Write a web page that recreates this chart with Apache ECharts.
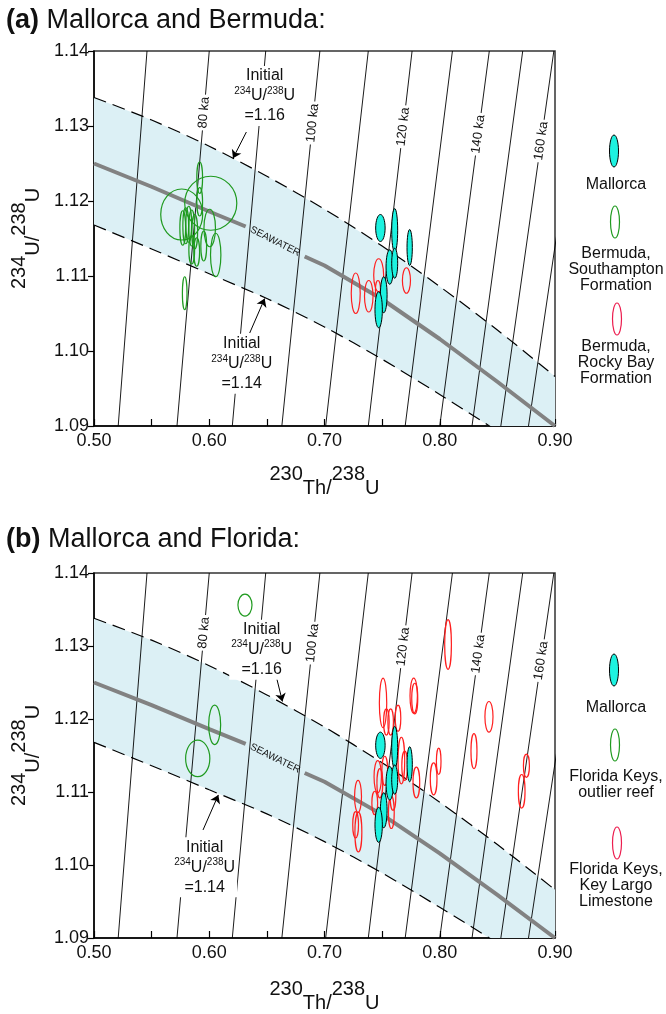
<!DOCTYPE html>
<html>
<head>
<meta charset="utf-8">
<script src="https://cdn.jsdelivr.net/npm/echarts@6/dist/echarts.min.js"></script>
<style>
  html, body { margin: 0; padding: 0; background: #fff; }
  #main { width: 666px; height: 1014px; }
</style>
</head>
<body>
<div id="main"></div>
<script>
var FONT = '"Liberation Sans", Arial, Helvetica, sans-serif';
var INK = '#111';
var BAND = '#dcf0f5';
var GREEN = '#1f9a1f';
var RED = '#ff1f1f';
var CYAN = '#1cf2e0';
var Y_MIN = 1.09, Y_MAX = 1.14;

// isochrons (age lines): x at 234U/238U = 1.09 and at 1.14
var isoAges = [70, 80, 90, 100, 110, 120, 130, 140, 150, 160, 170];
var isoBottomX = [0.521, 0.572, 0.620, 0.663, 0.701, 0.738, 0.770, 0.800, 0.828, 0.853, 0.877];
var isoTopX = [0.546, 0.600, 0.649, 0.696, 0.738, 0.776, 0.811, 0.843, 0.872, 0.899, 0.925];
var isoLabelAges = [80, 100, 120, 140, 160];
var isoLabelY = [1.1318, 1.1304, 1.1299, 1.1289, 1.1280];

// initial 234U/238U envelopes and seawater curve
var bandX = [0.50, 0.55, 0.60, 0.65, 0.70, 0.75, 0.80, 0.85, 0.90];
var initial116Y = [1.1338, 1.1308, 1.1273, 1.1233, 1.1189, 1.1140, 1.1086, 1.1028, 1.0966];
var initial114Y = [1.1168, 1.1136, 1.1103, 1.1070, 1.1032, 1.0989, 1.0942, 1.0893, 1.0840];
var seawaterX = [0.50, 0.55, 0.60, 0.6316, null, 0.6828, 0.70, 0.75, 0.80, 0.85, 0.90];
var seawaterY = [1.1250, 1.1219, 1.1186, 1.1166, null, 1.1126, 1.1114, 1.1069, 1.1016, 1.0959, 1.0900];

// samples: [230Th/238U, 234U/238U, half-width x, half-height y]
var mallorca = [
  [0.7485, 1.1164, 0.0041, 0.0018], [0.7609, 1.1161, 0.0026, 0.0029],
  [0.7739, 1.1138, 0.0023, 0.0024], [0.7566, 1.1112, 0.0032, 0.0023],
  [0.7609, 1.1117, 0.0026, 0.0020], [0.7514, 1.1075, 0.0029, 0.0024],
  [0.7470, 1.1055, 0.0032, 0.0024]
];
var bermudaSouthampton = [
  [0.5761, 1.1182, 0.0182, 0.0034], [0.6013, 1.1197, 0.0226, 0.0036],
  [0.5917, 1.1231, 0.0025, 0.0021], [0.5917, 1.1199, 0.0025, 0.0019],
  [0.5770, 1.1164, 0.0025, 0.0023], [0.5796, 1.1167, 0.0025, 0.0024],
  [0.5822, 1.1169, 0.0025, 0.0024], [0.5848, 1.1164, 0.0025, 0.0024],
  [0.5874, 1.1159, 0.0025, 0.0023], [0.6004, 1.1164, 0.0050, 0.0025],
  [0.6056, 1.1128, 0.0045, 0.0029], [0.5848, 1.1135, 0.0025, 0.0019],
  [0.5891, 1.1132, 0.0025, 0.0019], [0.5952, 1.1140, 0.0025, 0.0020],
  [0.5787, 1.1077, 0.0020, 0.0022]
];
var bermudaRockyBay = [
  [0.7271, 1.1077, 0.0039, 0.0027], [0.7384, 1.1073, 0.0037, 0.0021],
  [0.7470, 1.1101, 0.0043, 0.0022], [0.7464, 1.1082, 0.0022, 0.0012],
  [0.7711, 1.1094, 0.0035, 0.0017]
];
var floridaOutlier = [
  [0.6310, 1.1356, 0.0061, 0.0015], [0.6047, 1.1192, 0.0052, 0.0027],
  [0.5900, 1.1146, 0.0105, 0.0025]
];
var floridaKeyLargo = [
  [0.8072, 1.1302, 0.0029, 0.0034], [0.7508, 1.1222, 0.0032, 0.0034],
  [0.7774, 1.1232, 0.0032, 0.0024], [0.7783, 1.1228, 0.0026, 0.0021],
  [0.7638, 1.1201, 0.0024, 0.0018], [0.7574, 1.1196, 0.0024, 0.0018],
  [0.7537, 1.1196, 0.0024, 0.0018], [0.8427, 1.1203, 0.0035, 0.0021],
  [0.8297, 1.1156, 0.0026, 0.0024], [0.7991, 1.1142, 0.0020, 0.0018],
  [0.7947, 1.1118, 0.0029, 0.0022], [0.8752, 1.1136, 0.0026, 0.0016],
  [0.8711, 1.1101, 0.0029, 0.0023], [0.7797, 1.1113, 0.0029, 0.0021],
  [0.7667, 1.1143, 0.0029, 0.0032], [0.7462, 1.1121, 0.0032, 0.0022],
  [0.7291, 1.1094, 0.0030, 0.0022], [0.7294, 1.1045, 0.0030, 0.0027],
  [0.7270, 1.1055, 0.0025, 0.0018], [0.7436, 1.1085, 0.0025, 0.0016],
  [0.7480, 1.1112, 0.0025, 0.0020], [0.7523, 1.1129, 0.0025, 0.0020],
  [0.7580, 1.1072, 0.0025, 0.0022], [0.7594, 1.1095, 0.0025, 0.0020],
  [0.7696, 1.1136, 0.0025, 0.0020]
];

// "Initial 234U/238U" notes: text centre, arrow from -> to
var notesA = {
  upper: [0.6481, 1.1340], upperArrow: [[0.6322, 1.1292], [0.6206, 1.1257]],
  lower: [0.6282, 1.0983], lowerArrow: [[0.6351, 1.1024], [0.6481, 1.1070]]
};
var notesB = {
  upper: [0.6455, 1.1295], upperArrow: [[0.6574, 1.1263], [0.6635, 1.1224]],
  lower: [0.5960, 1.0997], lowerArrow: [[0.5946, 1.1048], [0.6079, 1.1096]]
};

var chart = echarts.init(document.getElementById('main'));

function ellipseSeries(g, data, style, z) {
  return {
    type: 'custom', xAxisIndex: g, yAxisIndex: g, clip: true, silent: true, z: z,
    data: data, encode: {x: 0, y: 1},
    renderItem: function (params, api) {
      var c = api.coord([api.value(0), api.value(1)]);
      var s = api.size([api.value(2), api.value(3)]);
      return {
        type: 'ellipse',
        shape: {cx: c[0], cy: c[1], rx: s[0], ry: s[1]},
        style: {fill: style.fill, stroke: style.stroke, lineWidth: style.lineWidth}
      };
    }
  };
}

function noteText(val) {
  return 'Initial\n{sup|234}U/{sup|238}U\n=' + val;
}

function panelSeries(g, groups, notes) {
  var s = [];
  // shaded band between the two initial-ratio curves
  s.push({
    type: 'custom', xAxisIndex: g, yAxisIndex: g, clip: true, silent: true, z: 1,
    data: bandX.map(function (x, i) { return [x, initial116Y[i], initial114Y[i]]; }),
    encode: {x: 0, y: 1},
    renderItem: function (params, api) {
      if (params.dataIndex !== 0) return;
      var pts = [], i;
      for (i = 0; i < bandX.length; i++) pts.push(api.coord([bandX[i], initial116Y[i]]));
      for (i = bandX.length - 1; i >= 0; i--) pts.push(api.coord([bandX[i], initial114Y[i]]));
      return {type: 'polygon', shape: {points: pts}, style: {fill: BAND}};
    }
  });
  // isochrons
  isoAges.forEach(function (age, i) {
    s.push({
      type: 'line', xAxisIndex: g, yAxisIndex: g, silent: true, z: 2,
      symbol: 'none', lineStyle: {color: '#000', width: 0.9},
      data: [[isoBottomX[i], Y_MIN], [isoTopX[i], Y_MAX]]
    });
  });
  // dashed envelopes
  [initial116Y, initial114Y].forEach(function (ys) {
    s.push({
      type: 'line', xAxisIndex: g, yAxisIndex: g, silent: true, z: 3,
      symbol: 'none', smooth: 0.3,
      lineStyle: {color: '#000', width: 1.2, type: [13, 7]},
      data: bandX.map(function (x, i) { return [x, ys[i]]; })
    });
  });
  // seawater curve (broken for its label)
  var seg = [];
  seawaterX.forEach(function (x, i) {
    if (x === null) {
      s.push({
        type: 'line', xAxisIndex: g, yAxisIndex: g, silent: true, z: 3,
        symbol: 'none', lineStyle: {color: '#828282', width: 4}, data: seg
      });
      seg = [];
    } else {
      seg.push([x, seawaterY[i]]);
    }
  });
  s.push({
    type: 'line', xAxisIndex: g, yAxisIndex: g, silent: true, z: 3,
    symbol: 'none', lineStyle: {color: '#828282', width: 4}, data: seg
  });
  var gap = seawaterX.indexOf(null);
  s.push({
    type: 'custom', xAxisIndex: g, yAxisIndex: g, silent: true, z: 4,
    data: [[seawaterX[gap - 1], seawaterY[gap - 1], seawaterX[gap + 1], seawaterY[gap + 1]]],
    encode: {x: 0, y: 1},
    renderItem: function (params, api) {
      var a = api.coord([api.value(0), api.value(1)]);
      var b = api.coord([api.value(2), api.value(3)]);
      return {
        type: 'text', x: (a[0] + b[0]) / 2, y: (a[1] + b[1]) / 2,
        rotation: Math.atan2(a[1] - b[1], b[0] - a[0]),
        style: {text: 'SEAWATER', fontSize: 10, fontFamily: FONT, fill: INK,
                align: 'center', verticalAlign: 'middle'}
      };
    }
  });
  // isochron age labels
  s.push({
    type: 'custom', xAxisIndex: g, yAxisIndex: g, silent: true, z: 4,
    data: isoLabelAges.map(function (age, k) {
      var i = isoAges.indexOf(age);
      return [isoBottomX[i], isoLabelY[k], isoTopX[i], age];
    }),
    encode: {x: 0, y: 1},
    renderItem: function (params, api) {
      var bx = api.value(0), ly = api.value(1), tx = api.value(2);
      var p1 = api.coord([bx, Y_MIN]), p2 = api.coord([tx, Y_MAX]);
      var t = (ly - Y_MIN) / (Y_MAX - Y_MIN);
      var c = api.coord([bx + (tx - bx) * t, ly]);
      return {
        type: 'text', x: c[0], y: c[1],
        rotation: Math.atan2(p1[1] - p2[1], p2[0] - p1[0]),
        style: {text: api.value(3) + ' ka', fontSize: 13, fontFamily: FONT, fill: INK,
                align: 'center', verticalAlign: 'middle',
                backgroundColor: '#fff', padding: [1, 2]}
      };
    }
  });
  // samples
  groups.forEach(function (gr) {
    s.push(ellipseSeries(g, gr.data, gr.style, gr.z));
  });
  // notes
  s.push({
    type: 'custom', xAxisIndex: g, yAxisIndex: g, silent: true, z: 6,
    data: [notes.upper.concat([1.16]), notes.lower.concat([1.14])],
    encode: {x: 0, y: 1},
    renderItem: function (params, api) {
      var c = api.coord([api.value(0), api.value(1)]);
      return {
        type: 'text', x: c[0], y: c[1],
        style: {
          text: noteText(api.value(2).toFixed(2)), fontSize: 16, lineHeight: 20,
          fontFamily: FONT, fill: INK, align: 'center', verticalAlign: 'middle',
          backgroundColor: '#fff', padding: [0, 2],
          rich: {sup: {fontSize: 10, lineHeight: 10, verticalAlign: 'top', fontFamily: FONT}}
        }
      };
    }
  });
  s.push({
    type: 'line', xAxisIndex: g, yAxisIndex: g, silent: true, z: 6, data: [],
    markLine: {
      silent: true, symbol: ['none', 'arrow'], symbolSize: 8, animation: false,
      lineStyle: {color: '#000', width: 1, type: 'solid'}, label: {show: false},
      data: [notes.upperArrow, notes.lowerArrow].map(function (ar) {
        return [{coord: ar[0]}, {coord: ar[1]}];
      })
    }
  });
  return s;
}

function xAxis(g, gap) {
  return {
    type: 'value', gridIndex: g, min: 0.5, max: 0.9, interval: 0.05,
    axisLine: {lineStyle: {color: '#000', width: 1.5}},
    axisTick: {inside: true, length: 7, lineStyle: {color: '#000', width: 1.2}},
    splitLine: {show: false},
    axisLabel: {
      fontSize: 18, color: INK, fontFamily: FONT, margin: 6,
      formatter: function (v) { return Math.round(v * 100) % 10 === 0 ? v.toFixed(2) : ''; }
    },
    name: '{n|230}{s|Th/}{n|238}{s|U}', nameLocation: 'middle', nameGap: gap,
    nameTextStyle: {
      fontSize: 20, color: INK, fontFamily: FONT,
      rich: {
        n: {fontSize: 20, lineHeight: 16, verticalAlign: 'top', fontFamily: FONT, color: INK},
        s: {fontSize: 20, lineHeight: 34, verticalAlign: 'bottom', fontFamily: FONT, color: INK}
      }
    }
  };
}

function yAxis(g) {
  return {
    type: 'value', gridIndex: g, min: Y_MIN, max: Y_MAX, interval: 0.01,
    axisLine: {lineStyle: {color: '#000', width: 1.5}},
    axisTick: {inside: false, length: 6, lineStyle: {color: '#000', width: 1.2}},
    splitLine: {show: false},
    axisLabel: {
      fontSize: 18, color: INK, fontFamily: FONT, margin: 5,
      formatter: function (v) { return v.toFixed(2); }
    },
    name: '{n|234}{s|U/}{n|238}{s|U}', nameLocation: 'middle', nameGap: 49,
    nameTextStyle: {
      fontSize: 20, color: INK, fontFamily: FONT,
      rich: {
        n: {fontSize: 20, lineHeight: 16, verticalAlign: 'top', fontFamily: FONT, color: INK},
        s: {fontSize: 20, lineHeight: 34, verticalAlign: 'bottom', fontFamily: FONT, color: INK}
      }
    }
  };
}

var openGreen = {fill: 'none', stroke: GREEN, lineWidth: 1.2};
var openRed = {fill: 'none', stroke: RED, lineWidth: 1.2};
var filledCyan = {fill: CYAN, stroke: '#000', lineWidth: 1};

var series = [].concat(
  panelSeries(0, [
    {data: bermudaSouthampton, style: openGreen, z: 5},
    {data: bermudaRockyBay, style: openRed, z: 5},
    {data: mallorca, style: filledCyan, z: 5}
  ], notesA),
  panelSeries(1, [
    {data: floridaOutlier, style: openGreen, z: 5},
    {data: floridaKeyLargo, style: openRed, z: 5},
    {data: mallorca, style: filledCyan, z: 5}
  ], notesB)
);

function legendBlock(items) {
  var els = [];
  items.forEach(function (it) {
    els.push({
      type: 'ellipse', shape: {cx: it.cx, cy: it.cy, rx: 4.5, ry: 16},
      style: {fill: it.fill, stroke: it.stroke, lineWidth: it.lineWidth}
    });
    els.push({
      type: 'text', x: 616, y: it.ty,
      style: {text: it.text, fontSize: 16, lineHeight: 16, fontFamily: FONT, fill: INK,
              align: 'center', verticalAlign: 'middle'}
    });
  });
  return els;
}

var graphics = [].concat(
  legendBlock([
    {cx: 614, cy: 151, fill: CYAN, stroke: '#000', lineWidth: 1, text: 'Mallorca', ty: 185},
    {cx: 615, cy: 222, fill: 'none', stroke: GREEN, lineWidth: 1.2, text: 'Bermuda,\nSouthampton\nFormation', ty: 270},
    {cx: 617, cy: 319, fill: 'none', stroke: '#ec1c4e', lineWidth: 1.2, text: 'Bermuda,\nRocky Bay\nFormation', ty: 363}
  ]),
  legendBlock([
    {cx: 614, cy: 670, fill: CYAN, stroke: '#000', lineWidth: 1, text: 'Mallorca', ty: 708},
    {cx: 615, cy: 745, fill: 'none', stroke: GREEN, lineWidth: 1.2, text: 'Florida Keys,\noutlier reef', ty: 785},
    {cx: 617, cy: 843, fill: 'none', stroke: '#ec1c4e', lineWidth: 1.2, text: 'Florida Keys,\nKey Largo\nLimestone', ty: 886}
  ])
);

var titleStyle = {
  fontSize: 27, fontWeight: 'normal', color: INK, fontFamily: FONT, lineHeight: 28,
  rich: {b: {fontSize: 27, fontWeight: 'bold', color: INK, fontFamily: FONT, lineHeight: 28}}
};

chart.setOption({
  animation: false,
  textStyle: {fontFamily: FONT},
  title: [
    {left: 6, top: 7, padding: 0, text: '{b|(a)} Mallorca and Bermuda:', textStyle: titleStyle},
    {left: 6, top: 526, padding: 0, text: '{b|(b)} Mallorca and Florida:', textStyle: titleStyle}
  ],
  grid: [
    {left: 94, top: 51, width: 461, height: 375, show: true, borderColor: '#333', borderWidth: 1.5},
    {left: 94, top: 573, width: 461, height: 376, show: true, borderColor: '#333', borderWidth: 1.5}
  ],
  xAxis: [xAxis(0, 38), xAxis(1, 41)],
  yAxis: [yAxis(0), yAxis(1)],
  graphic: graphics,
  series: series
});
</script>
</body>
</html>
